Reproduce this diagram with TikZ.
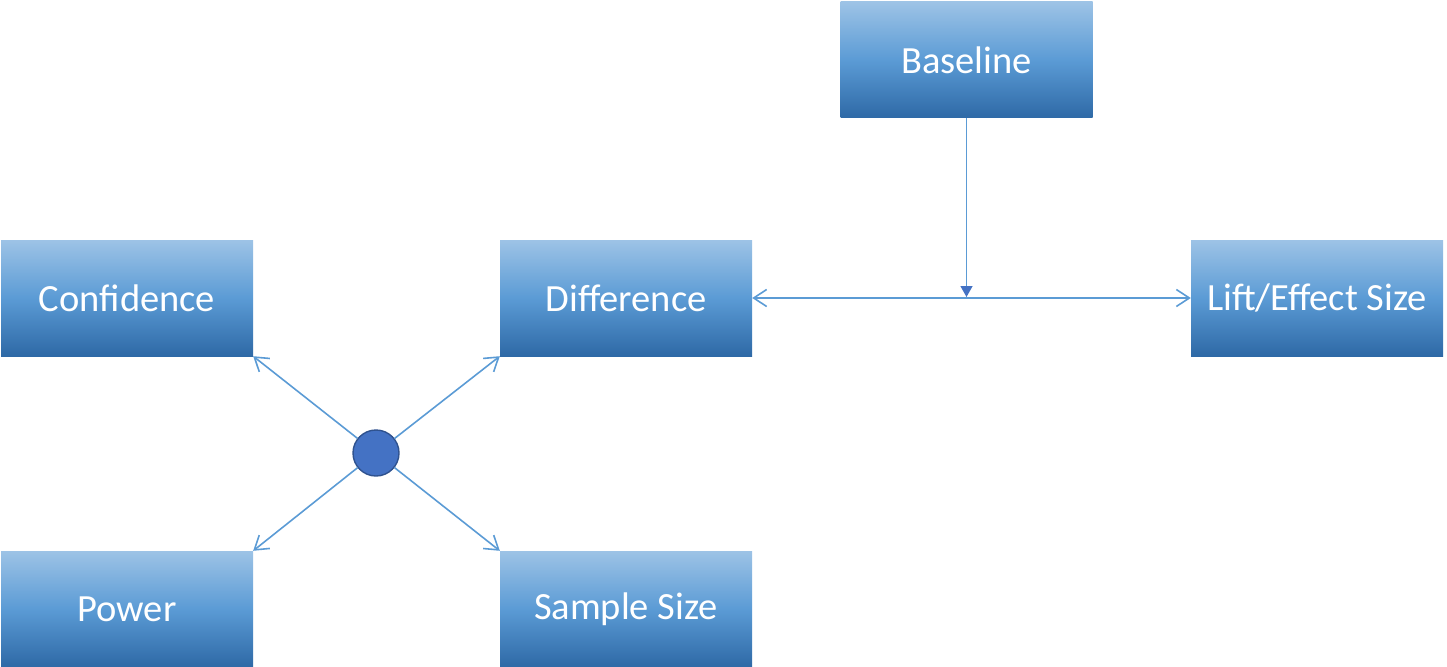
\documentclass[tikz,border=0pt]{standalone}
\usepackage{fontspec}
\setmainfont{Carlito}
\usetikzlibrary{arrows.meta}
\definecolor{boxtop}{HTML}{9DC3E6}
\definecolor{boxmid}{HTML}{5B9BD5}
\definecolor{boxbot}{HTML}{2E69A6}
\definecolor{linkblue}{HTML}{5B9BD5}
\definecolor{hubfill}{HTML}{4472C4}
\definecolor{hubedge}{HTML}{2F528F}
\begin{document}
\begin{tikzpicture}[x=1pt,y=-1pt,
  factor/.style={minimum width=252pt, minimum height=116pt, inner sep=0pt,
    text=white, font=\fontsize{38.5}{42}\selectfont,
    top color=boxtop, bottom color=boxbot, middle color=boxmid},
  barb/.tip={Straight Barb[length=13pt,width=17pt,line width=1.6pt]},
  link/.style={draw=linkblue, line width=1.6pt, arrows={barb-}},
  twoway/.style={draw=linkblue, line width=1.6pt, arrows={barb-barb}},
  feed/.style={draw=linkblue, line width=1.2pt,
    -{Triangle[length=11pt,width=12pt,fill=hubfill,color=hubfill]}},
  hub/.style={circle, minimum size=46pt, inner sep=0pt, fill=hubfill, draw=hubedge, line width=1.4pt}]
\useasboundingbox (0,0) rectangle (1447,666);

% factor boxes
\node[factor] (base) at (966.5,60) {Baseline};
\node[factor] (conf) at (127,298) {Confidence};
\node[factor] (diff) at (626,298) {Difference};
\node[factor] (lift) at (1317,298) {Lift/Effect Size};
\node[factor] (pow)  at (127,609) {Power};
\node[factor] (samp) at (626,609) {Sample Size};

% central hub linking the four test parameters
\node[hub] (hub) at (376,453) {};

\coordinate (join) at (966.5,297);

\draw[twoway] (diff.east) -- (lift.west);
\draw[feed] (base.south) -- (join);

\draw[link] (conf.south east) -- (hub);
\draw[link] (diff.south west) -- (hub);
\draw[link] (pow.north east) -- (hub);
\draw[link] (samp.north west) -- (hub);
\end{tikzpicture}
\end{document}
